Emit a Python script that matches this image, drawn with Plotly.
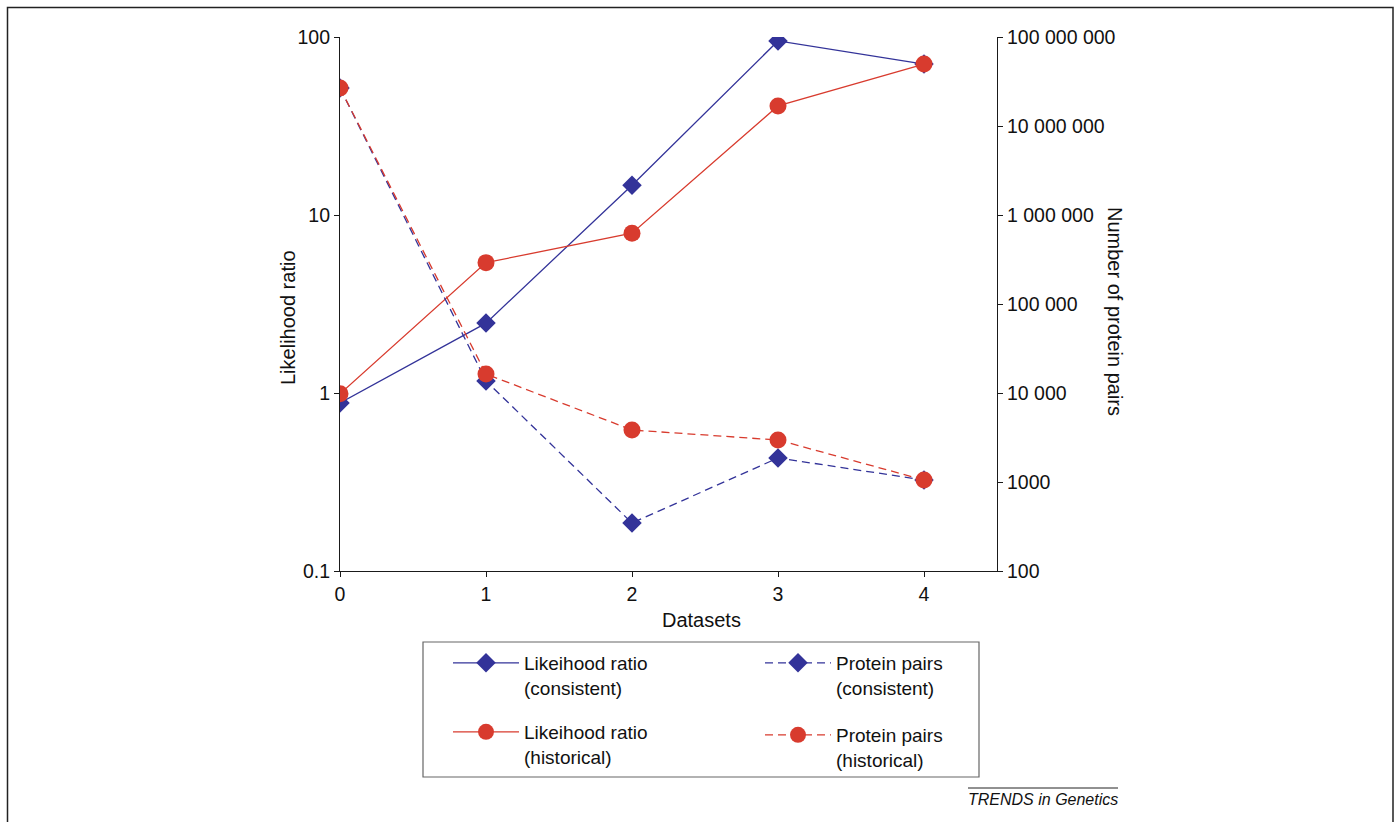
import plotly.graph_objects as go

# ---- data ----
datasets = [0, 1, 2, 3, 4]
lr_consistent = [0.88, 2.47, 14.7, 95, 70.5]
lr_historical = [0.99, 5.4, 7.9, 41, 70.5]
pp_consistent = [26700000, 13650, 346, 1862, 1053]
pp_historical = [26700000, 16340, 3840, 2964, 1053]

left_tickvals = [0.1, 1, 10, 100]
left_ticktext = ["0.1", "1", "10", "100"]
right_tickvals = [100, 1000, 10000, 100000, 1000000, 10000000, 100000000]
right_ticktext = ["100", "1000", "10 000", "100 000", "1 000 000", "10 000 000", "100 000 000"]

name_lr_c = "Likeihood ratio<br>(consistent)"
name_pp_c = "Protein pairs<br>(consistent)"
name_lr_h = "Likeihood ratio<br>(historical)"
name_pp_h = "Protein pairs<br>(historical)"

BLUE = "#333399"
RED = "#d83b2e"
FONT = "Liberation Sans, Arial, sans-serif"

W, H = 1395, 822
L, R, T, B = 340, 398, 37, 251
pw, ph = W - L - R, H - T - B


def px(x):
    return (x - L) / pw


def py(y):
    return (H - B - y) / ph


fig = go.Figure()

fig.add_trace(go.Scatter(x=datasets, y=pp_consistent, yaxis="y2", name=name_pp_c, legend="legend2",
                         mode="lines+markers", line=dict(color=BLUE, width=1.3, dash="8px,5px"),
                         marker=dict(symbol="diamond", size=15, color=BLUE)))
fig.add_trace(go.Scatter(x=datasets, y=pp_historical, yaxis="y2", name=name_pp_h, legend="legend4",
                         mode="lines+markers", line=dict(color=RED, width=1.3, dash="8px,5px"),
                         marker=dict(symbol="circle", size=17, color=RED)))
fig.add_trace(go.Scatter(x=datasets, y=lr_consistent, name=name_lr_c, legend="legend",
                         mode="lines+markers", line=dict(color=BLUE, width=1.3),
                         marker=dict(symbol="diamond", size=15, color=BLUE)))
fig.add_trace(go.Scatter(x=datasets, y=lr_historical, name=name_lr_h, legend="legend3",
                         mode="lines+markers", line=dict(color=RED, width=1.3),
                         marker=dict(symbol="circle", size=17, color=RED)))

axis_common = dict(showgrid=False, zeroline=False, showline=True, linecolor="#1a1a1a",
                   linewidth=1.2, ticks="outside", ticklen=5, tickcolor="#1a1a1a",
                   tickfont=dict(family=FONT, size=19.5, color="#111"))


def leg(text_x, text_y):
    # text_x: left edge of legend text, text_y: centre of first text line (pixels)
    return dict(x=px(text_x - 77), y=py(text_y - 19), xanchor="left", yanchor="top",
                bgcolor="rgba(0,0,0,0)", borderwidth=0,
                font=dict(family=FONT, size=19, color="#111"),
                itemwidth=66, valign="top", itemclick=False, itemdoubleclick=False)


fig.update_layout(
    width=W, height=H,
    margin=dict(l=L, r=R, t=T, b=B, pad=0),
    paper_bgcolor="white", plot_bgcolor="white",
    font=dict(family=FONT, color="#111"),
    xaxis=dict(range=[0, 4.5], tickvals=datasets, ticktext=[str(d) for d in datasets],
               **axis_common),
    yaxis=dict(type="log", range=[-1, 2], tickvals=left_tickvals, ticktext=left_ticktext,
               **axis_common),
    yaxis2=dict(type="log", range=[2, 8], tickvals=right_tickvals, ticktext=right_ticktext,
                overlaying="y", side="right", anchor="x", **axis_common),
    # inner half of the crossing ticks on the right axis
    yaxis3=dict(type="log", range=[2, 8], tickvals=right_tickvals, showticklabels=False,
                overlaying="y", side="right", anchor="x", showgrid=False, zeroline=False,
                showline=False, ticks="inside", ticklen=4, tickcolor="#1a1a1a", tickwidth=1),
    showlegend=True,
    legend=leg(525, 663),
    legend2=leg(837, 663),
    legend3=leg(525, 732),
    legend4=leg(837, 735),
    hovermode=False,
)

title_font = dict(family=FONT, size=20, color="#111")
fig.add_annotation(text="Likelihood ratio", xref="paper", yref="paper", x=px(288), y=py(318),
                   xanchor="center", yanchor="middle",
                   textangle=-90, showarrow=False, font=title_font)
fig.add_annotation(text="Number of protein pairs", xref="paper", yref="paper", x=px(1115), y=py(311),
                   xanchor="center", yanchor="middle",
                   textangle=90, showarrow=False, font=title_font)
fig.add_annotation(text="Datasets", xref="paper", yref="paper", x=px(701), y=py(620),
                   xanchor="center", yanchor="middle", showarrow=False, font=title_font)
fig.add_annotation(text="<i>TRENDS in Genetics</i>", xref="paper", yref="paper", x=px(1043), y=py(799),
                   xanchor="center", yanchor="middle",
                   showarrow=False, font=dict(family=FONT, size=16, color="#111"))
# overline of the footer
fig.add_shape(type="line", xref="paper", yref="paper", x0=px(968), x1=px(1118), y0=py(788), y1=py(788),
              line=dict(color="#222", width=1))
# legend box
fig.add_shape(type="rect", xref="paper", yref="paper", x0=px(423), x1=px(979), y0=py(642), y1=py(777),
              line=dict(color="#666", width=1.2))
# outer frame
fig.add_shape(type="rect", xref="paper", yref="paper", x0=px(7.5), x1=px(1393), y0=py(7.5), y1=py(840),
              line=dict(color="#222", width=1.5))

fig.write_html("out.html", config={"displayModeBar": False},
               post_script="document.body.style.margin='0px';")
